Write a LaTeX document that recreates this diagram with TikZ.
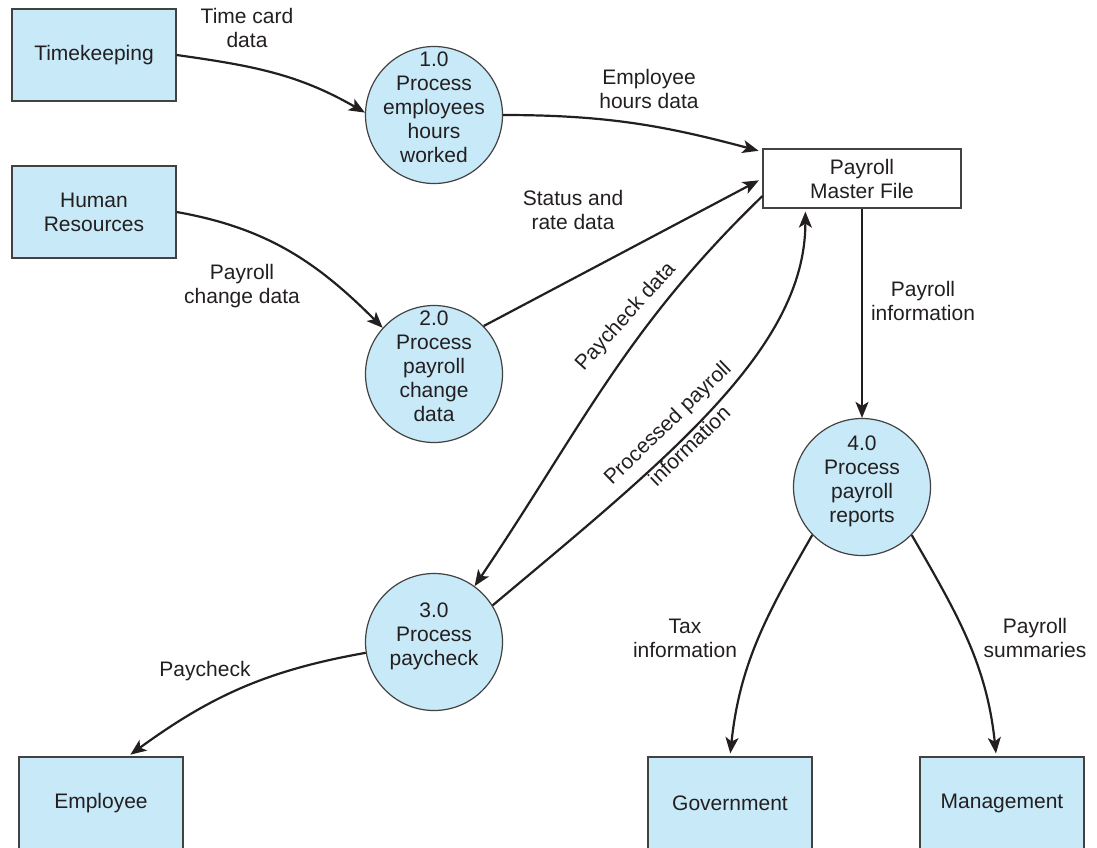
\documentclass[tikz,border=0pt]{standalone}
\usepackage{fontspec}
\setmainfont{Liberation Sans}
\usetikzlibrary{arrows.meta}
\definecolor{boxblue}{HTML}{C7E9F8}
\definecolor{ink}{HTML}{231F20}
\newcommand{\proctext}[1]{\smash{\begin{tabular}{@{}c@{}}#1\end{tabular}}}

\begin{document}
\begin{tikzpicture}[x=1pt,y=1pt,font=\fontsize{21}{24}\selectfont]
\tikzset{edge/.style = {-{Stealth[length=16pt,width=13pt,inset=4pt]}, line width=2.2pt, draw=ink},
  ext/.style = {rectangle, draw=ink!85, line width=1.2pt, fill=boxblue, minimum width=164pt, minimum height=92pt, align=center, inner sep=0pt, text=ink},
  proc/.style = {circle, draw=ink!85, line width=1.2pt, fill=boxblue, minimum size=137pt, inner sep=0pt, text=ink},
  store/.style = {rectangle, draw=ink!85, line width=1.2pt, fill=white, minimum width=198pt, minimum height=59pt, align=center, inner sep=0pt, text=ink},
  lbl/.style = {align=center, inner sep=0pt, text=ink}}
\clip (0,0) rectangle (1097,-847);

\node[ext] (tk) at (94,-55) {Timekeeping};
\node[ext] (hr) at (94,-212) {Human\\Resources};
\node[proc] (p1) at (434,-115) {\proctext{1.0\\Process\\employees\\hours\\worked}};
\node[proc] (p2) at (434,-374) {\proctext{2.0\\Process\\payroll\\change\\data}};
\node[proc] (p3) at (434,-642) {\proctext{3.0\\Process\\paycheck}};
\node[proc] (p4) at (862,-487) {\proctext{4.0\\Process\\payroll\\reports}};
\node[store] (pm) at (862,-178.5) {Payroll\\Master File};
\node[ext] (emp) at (101,-803) {Employee};
\node[ext] (gov) at (730,-803) {Government};
\node[ext] (mgt) at (1002,-803) {Management};

\draw[edge] (tk.east) to[out=-8, in=150] (p1.178);
\draw[edge, shorten >=4pt] (p1.east) to[out=0, in=165] (pm.165);
\draw[edge] (hr.east) to[out=-10, in=135] (p2.138);
\draw[edge, shorten >=4pt] (p2.44) -- (pm.180);
\draw[edge] (pm.190) to[out=224, in=56] (p3.54);
\draw[edge, shorten >=3pt] (p3.32) to[out=40, in=-90, out distance=230pt, in distance=140pt] (pm.208);
\draw[edge] (pm.south) -- (p4.north);
\draw[edge, shorten >=3pt] (p4.224) to[out=-120, in=84] (gov.north);
\draw[edge, shorten >=3pt] (p4.316) to[out=-60, in=96] (mgt.97);
\draw[edge, shorten >=3pt] (p3.189) to[out=190, in=36] (emp.60);

\node[lbl] (tcd) at (247,-28) {Time card\\data};
\node[lbl] (ehd) at (649,-89) {Employee\\hours data};
\node[lbl] (srd) at (573,-210) {Status and\\rate data};
\node[lbl] (pcg) at (242,-286) {Payroll\\change data};
\node[lbl, rotate=48] (pcd) at (626,-317) {Paycheck data};
\node[lbl, rotate=44] (ppi) at (678,-434) {Processed payroll\\[8pt]information};
\node[lbl] (pin) at (923,-301) {Payroll\\information};
\node[lbl] (tax) at (685,-638) {Tax\\information};
\node[lbl] (psum) at (1035,-638) {Payroll\\summaries};
\node[lbl] (pck) at (205,-671) {Paycheck};
\end{tikzpicture}
\end{document}
